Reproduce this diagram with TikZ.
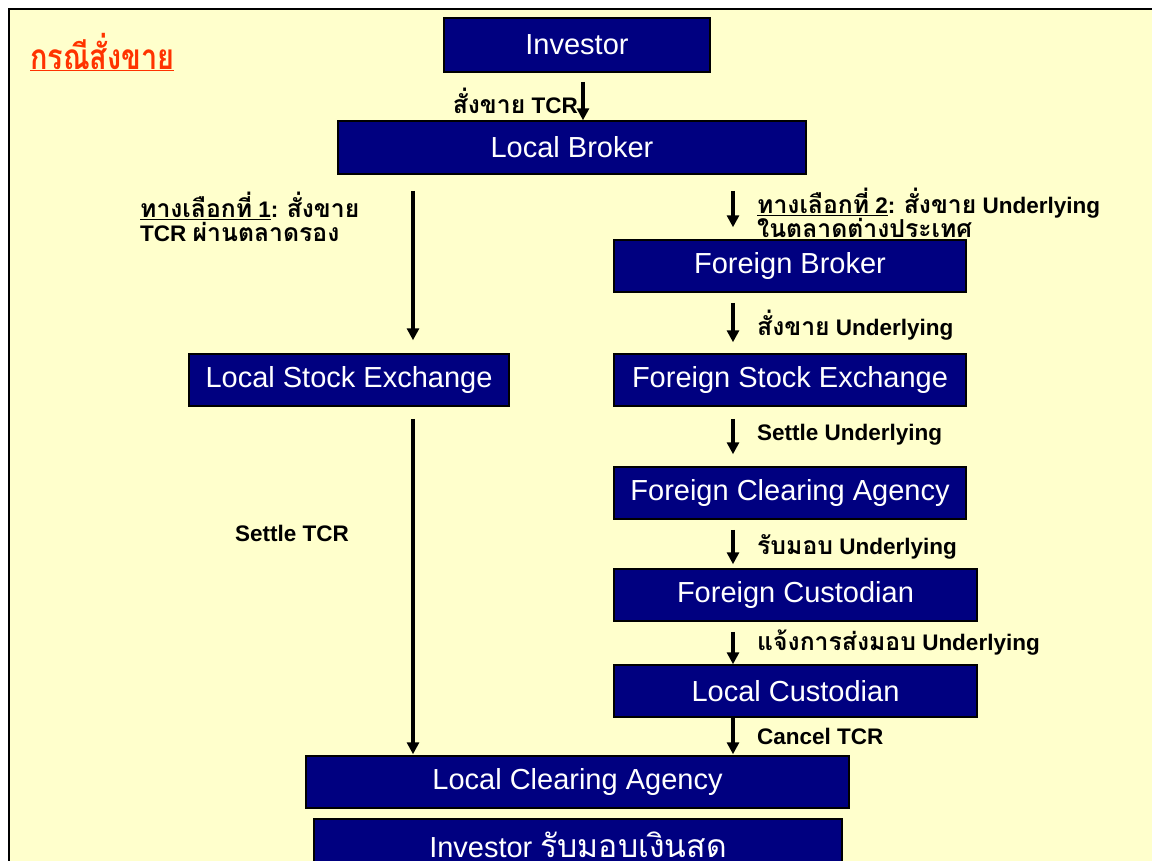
\documentclass[tikz,border=0pt]{standalone}
\usepackage{fontspec}
\setmainfont{Liberation Sans}
\newfontfamily\thaifont[Script=Thai,Scale=1.1]{Loma}
\usetikzlibrary{arrows.meta}
\definecolor{navy}{RGB}{0,0,128}
\definecolor{bgyellow}{RGB}{255,255,204}
\definecolor{titlered}{RGB}{255,51,0}
\newcommand\tf[1]{{\thaifont #1}}
\begin{document}
\begin{tikzpicture}[x=1pt,y=-1pt,
  box/.style={draw=black, line width=1.5pt, fill=navy, text=white, inner sep=0pt,
    font=\fontsize{29}{34}\selectfont},
  lbl/.style={anchor=west, inner sep=0pt, font=\bfseries\fontsize{22.5}{24}\selectfont, align=left},
  arr/.style={line width=3.4pt, -{Triangle[width=12pt,length=12pt]}}]
\clip (0,0) rectangle (1152,860);
\fill[white] (0,0) rectangle (1152,860);
\draw[line width=2pt, fill=bgyellow] (9,9) rectangle (1170,880);
% title
\node[anchor=west, inner sep=0pt, text=titlered, xscale=0.82, font=\bfseries\fontsize{32}{36}\selectfont] (title) at (30,52) {\tf{\underline{กรณีสั่งขาย}}};
% boxes
\node[box, minimum width=266pt, minimum height=54pt] (inv) at (577,45) {Investor};
\node[box, minimum width=468pt, minimum height=53pt] (lb) at (572,147.5) {Local Broker};
\node[box, minimum width=352pt, minimum height=52pt] (fb) at (790,266) {Foreign Broker};
\node[box, minimum width=320pt, minimum height=52pt] (lse) at (349,380) {Local Stock Exchange};
\node[box, minimum width=352pt, minimum height=52pt] (fse) at (790,380) {Foreign Stock Exchange};
\node[box, minimum width=352pt, minimum height=52pt] (fca) at (790,493) {Foreign Clearing Agency};
\node[box, minimum width=363pt, minimum height=52pt] (fcu) at (795.5,595) {Foreign Custodian};
\node[box, minimum width=363pt, minimum height=52pt] (lcu) at (795.5,691) {Local Custodian};
\node[box, minimum width=543pt, minimum height=52pt] (lca) at (577.5,782) {Local Clearing Agency};
\node[box, minimum width=528pt, minimum height=52pt] (inv2) at (578,845) {Investor \tf{รับมอบเงินสด}};
% arrow lanes
\coordinate (xa) at (583,0);
\coordinate (xl) at (413,0);
\coordinate (xr) at (733,0);
% arrows
\draw[arr, shorten <=9pt] (xa |- inv.south) -- (xa |- lb.north);
\draw[arr, shorten <=16pt, shorten >=13pt] (xl |- lb.south) -- (xl |- lse.north);
\draw[arr, shorten <=12pt, shorten >=1pt] (xl |- lse.south) -- (xl |- lca.north);
\draw[arr, shorten <=16pt, shorten >=12pt] (xr |- lb.south) -- (xr |- fb.north);
\draw[arr, shorten <=10pt, shorten >=11pt] (xr |- fb.south) -- (xr |- fse.north);
\draw[arr, shorten <=12pt, shorten >=12pt] (xr |- fse.south) -- (xr |- fca.north);
\draw[arr, shorten <=10pt, shorten >=4pt] (xr |- fca.south) -- (xr |- fcu.north);
\draw[arr, shorten <=10pt] (xr |- fcu.south) -- (xr |- lcu.north);
\draw[arr, shorten >=1pt] (xr |- lcu.south) -- (xr |- lca.north);
% labels
\node[lbl, anchor=east] (l1) at (578,101) {\tf{สั่งขาย} TCR};
\node[lbl] (l2) at (140,217) {\underline{\tf{ทางเลือกที่} 1}: \tf{สั่งขาย}\\TCR \tf{ผ่านตลาดรอง}};
\node[lbl] (l3) at (757,213) {\underline{\tf{ทางเลือกที่} 2}: \tf{สั่งขาย} Underlying\\\tf{ในตลาดต่างประเทศ}};
\node[lbl] (l4) at (757,325) {\tf{สั่งขาย} Underlying};
\node[lbl] (l5) at (757,435) {Settle Underlying};
\node[lbl] (l6) at (757,547) {\tf{รับมอบ} Underlying};
\node[lbl] (l7) at (757,643) {\tf{แจ้งการส่งมอบ} Underlying};
\node[lbl] (l8) at (757,736) {Cancel TCR};
\node[lbl] (l9) at (235,533) {Settle TCR};
\end{tikzpicture}
\end{document}
